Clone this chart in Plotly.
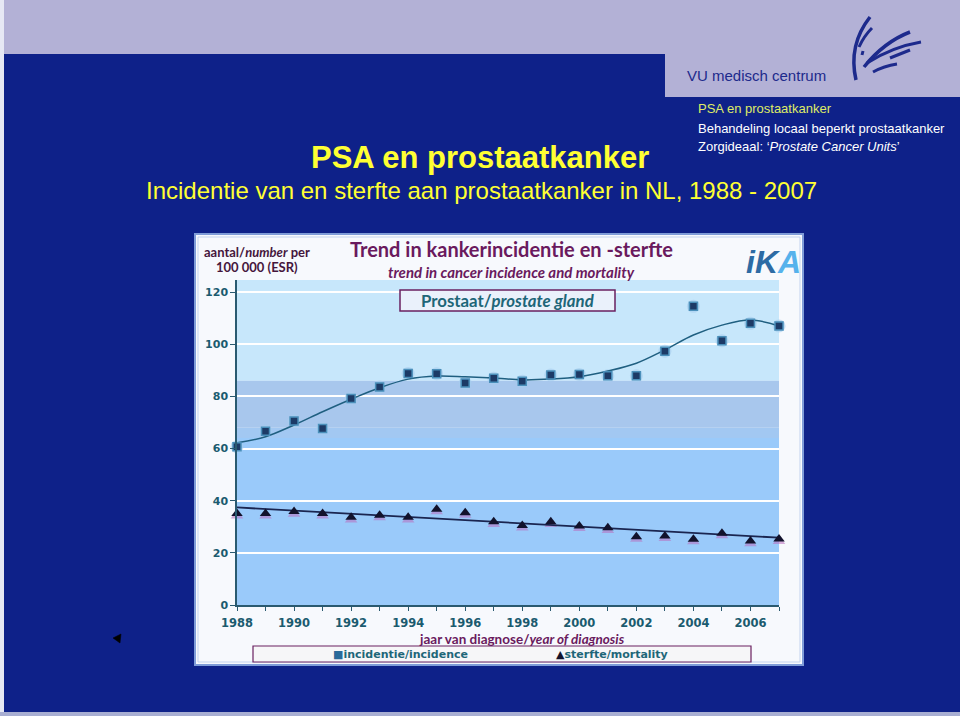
import plotly.graph_objects as go

# ---------------- data ----------------
years = list(range(1988, 2008))
incidence = [60.7, 66.6, 70.5, 67.7, 79.2, 83.6, 88.8, 88.7, 85.1, 86.9,
             85.8, 88.2, 88.4, 87.9, 87.9, 97.3, 114.5, 101.3, 108.0, 107.0]
incidence_trend = [62.2, 64.5, 69.0, 74.1, 78.9, 83.3, 86.6, 87.8, 87.5, 87.0,
                   86.3, 86.6, 87.5, 89.7, 92.7, 97.8, 103.5, 107.3, 109.3, 107.0]
mortality = [35.1, 35.1, 35.8, 35.1, 33.6, 34.4, 33.6, 36.7, 35.4, 31.9,
             30.5, 31.9, 30.3, 29.6, 26.2, 26.5, 25.2, 27.5, 24.5, 25.3]
mortality_trend_years = [1988, 2007]
mortality_trend = [37.4, 25.8]
y_ticks = [0, 20, 40, 60, 80, 100, 120]
x_tick_text = [str(y) if y % 2 == 0 else "" for y in years]

# ---------------- geometry helpers (pixel -> paper) ----------------
W, H = 960, 716
L, R, T, B = 237, 779, 280, 605


def X(px):
    return (px - L) / (R - L)


def Y(py):
    return (B - py) / (B - T)


def prect(x0, y0, x1, y1, **kw):
    d = dict(type="rect", xref="paper", yref="paper",
             x0=X(x0), x1=X(x1), y0=Y(y0), y1=Y(y1), layer="below")
    d.update(kw)
    return d


def ppath(points, **kw):
    s = "M " + " ".join(
        (f"{c} " if isinstance(c, str) else f"{X(c[0]):.5f},{Y(c[1]):.5f} ")
        for c in points)
    d = dict(type="path", xref="paper", yref="paper", path=s.strip(), layer="above")
    d.update(kw)
    return d


DARK_BLUE = "#0e2189"
LAVENDER = "#b3b1d6"
TEAL = "#1b5b6f"
PURPLE = "#6a1a5e"

fig = go.Figure()

# marker halos / shadows
fig.add_trace(go.Scatter(x=years, y=incidence, mode="markers",
                         marker=dict(symbol="circle", size=13, color="rgba(165,205,238,0.6)"),
                         hoverinfo="skip", cliponaxis=False))
fig.add_trace(go.Scatter(x=years, y=[v - 0.9 for v in mortality], mode="markers",
                         marker=dict(symbol="triangle-up", size=11, color="rgba(185,110,190,0.55)"),
                         hoverinfo="skip", cliponaxis=False))

# trend lines
fig.add_trace(go.Scatter(x=years, y=incidence_trend, mode="lines",
                         line=dict(color="#1f5f80", width=1.5, shape="spline", smoothing=1.0),
                         hoverinfo="skip", cliponaxis=False))
fig.add_trace(go.Scatter(x=mortality_trend_years, y=mortality_trend, mode="lines",
                         line=dict(color="#1a2550", width=1.8),
                         hoverinfo="skip", cliponaxis=False))

# observed values
fig.add_trace(go.Scatter(x=years, y=incidence, mode="markers", name="incidentie/incidence",
                         marker=dict(symbol="square", size=8, color="#1c3a66",
                                     line=dict(color="#4a8fba", width=1.5)),
                         cliponaxis=False))
fig.add_trace(go.Scatter(x=years, y=mortality, mode="markers", name="sterfte/mortality",
                         marker=dict(symbol="triangle-up", size=10, color="#12122c"),
                         cliponaxis=False))

shapes = []
# slide background pieces
shapes.append(prect(0, 0, 960, 54, fillcolor=LAVENDER, line=dict(width=0)))
shapes.append(prect(665, 0, 960, 97, fillcolor=LAVENDER, line=dict(width=0)))
shapes.append(prect(0, 0, 4, 716, fillcolor="#e6e8f4", line=dict(width=0)))
shapes.append(prect(0, 712, 960, 716, fillcolor="#a8aed2", line=dict(width=0)))

# chart frame
shapes.append(prect(195, 234, 803, 665, fillcolor="#f7f9fd", line=dict(color="#7f9cd8", width=2)))
shapes.append(prect(198, 237, 800, 662, fillcolor="rgba(0,0,0,0)", line=dict(color="#c3d3ef", width=1)))

# plot-area background bands (data coordinates)
bands = [(86, 124.6, "#c7e7fb"), (68, 86, "#a8c7ed"), (64, 68, "#a2c8f2"),
         (0, 64, "#9acafa")]
for y0, y1, col in bands:
    shapes.append(dict(type="rect", xref="x", yref="y", x0=1988, x1=2007, y0=y0, y1=y1,
                       fillcolor=col, line=dict(width=0), layer="below"))

# "Prostaat/prostate gland" box
shapes.append(prect(400, 290, 615, 311, fillcolor="#eaf1fb", line=dict(color="#6a2060", width=1.5),
                    layer="above"))
# legend box
shapes.append(prect(253, 646, 751, 662, fillcolor="#f6f6f8", line=dict(color="#6a2060", width=1.2),
                    layer="above"))

# VU logo swooshes
logo = "#1d2a8c"
for pts, w in [
    ([(870, 17), "Q", (848, 45), (856, 80)], 3.5),
    ([(872, 28), "Q", (864, 36), (859, 47)], 3.0),
    ([(863, 51), "L", (862, 55)], 3.0),
    ([(864, 67), "Q", (884, 42), (910, 32)], 3.5),
    ([(867, 63), "Q", (892, 47), (921, 42)], 3.0),
    ([(890, 58), "L", (910, 50)], 3.0),
    ([(873, 72), "Q", (884, 66), (897, 64)], 3.0),
]:
    shapes.append(ppath(pts, line=dict(color=logo, width=w)))

# stray black triangle on the slide
shapes.append(ppath([(113, 638), "L", (121, 634), "L", (120, 643), "Z"],
                    fillcolor="#000000", line=dict(color="#000000", width=0.5)))

fig.update_layout(shapes=shapes)

ann = []


def text(px, py, s, size, color, family="Liberation Sans, Arial, sans-serif",
         xanchor="center", weight="normal", style="normal"):
    ann.append(dict(x=X(px), y=Y(py), xref="paper", yref="paper", text=s, showarrow=False,
                    xanchor=xanchor, yanchor="middle",
                    font=dict(size=size, color=color, family=family, weight=weight, style=style)))


# slide texts
text(480, 157, "PSA en prostaatkanker", 31, "#ffff33", weight="bold")
text(481, 190, "Incidentie van en sterfte aan prostaatkanker in NL, 1988 - 2007", 24, "#ffff33")
text(696, 108, "PSA en prostaatkanker", 13, "#dfeb66", xanchor="left")
text(696, 128, "Behandeling locaal beperkt prostaatkanker", 13, "#ffffff", xanchor="left")
text(696, 147, "Zorgideaal: ‘<i>Prostate Cancer Units</i>’", 13, "#ffffff", xanchor="left")
text(685, 75, "VU medisch centrum", 15, logo, xanchor="left")

# chart texts
CF = "Lato, Open Sans, sans-serif"
VF = "DejaVu Sans, Verdana, sans-serif"
text(257, 252, "aantal/<i>number</i> per", 13, "#45163c", family=CF, weight="bold")
text(257, 267, "100 000 (ESR)", 13, "#45163c", family=CF, weight="bold")
text(511, 249, "Trend in kankerincidentie en -sterfte", 20, PURPLE, family=CF, weight="bold")
text(511, 271.5, "<i>trend in cancer incidence and mortality</i>", 15, PURPLE, family=CF, weight="bold")
text(507, 300, "Prostaat/<i>prostate gland</i>", 16.8, "#1e6678", family=CF, weight="bold")
text(522, 638.5, "jaar van diagnose/<i>year of diagnosis</i>", 13.5, PURPLE, family=CF, weight="bold")
text(400, 654, "<span style='color:#2a6a9a'>■</span>incidentie/incidence", 11, "#1e6678",
     family=VF, weight="bold")
text(612, 654, "<span style='color:#12122c'>▲</span>sterfte/mortality", 11, "#1e6678",
     family=VF, weight="bold")
text(773, 262, "<span style='color:#2d6ba4'>iK</span><span style='color:#56b2ec'>A</span>", 32,
     "#2d6ba4", family="Liberation Sans, Arial, sans-serif", weight="bold", style="italic")

tickfont = dict(family=VF, size=11, color=TEAL, weight="bold")

fig.update_layout(
    width=W, height=H, autosize=False,
    margin=dict(l=L, r=W - R, t=T, b=H - B, pad=0),
    paper_bgcolor=DARK_BLUE,
    plot_bgcolor="#c7e7fb",
    showlegend=False,
    annotations=ann,
    xaxis=dict(range=[1988, 2007], tickmode="array", tickvals=years, ticktext=x_tick_text,
               ticks="outside", ticklen=4, tickcolor="#2a5a70", showline=True,
               linecolor="#2a5a70", linewidth=1.5, showgrid=False, zeroline=False,
               ticklabelstandoff=2,
               tickfont=dict(tickfont, size=11.5), fixedrange=True),
    yaxis=dict(range=[0, 124.6], tickmode="array", tickvals=y_ticks,
               ticks="outside", ticklen=5, tickcolor="#2a5a70", showline=True,
               linecolor="#2a5a70", linewidth=1.5, showgrid=True, gridcolor="#ffffff",
               gridwidth=1.5, zeroline=False, tickfont=tickfont, fixedrange=True),
)

fig.write_html("out.html")
